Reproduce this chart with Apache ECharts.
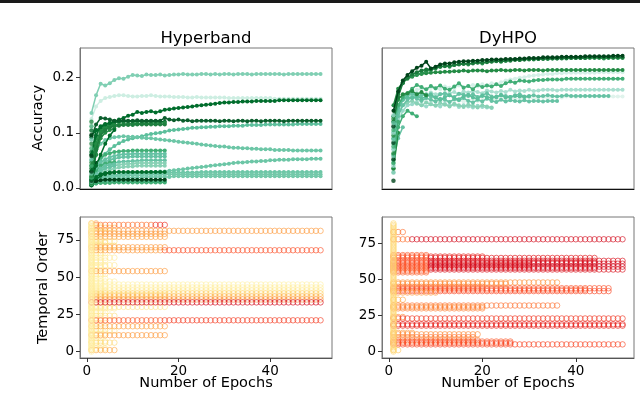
<!DOCTYPE html>
<html><head><meta charset="utf-8">
<script src="https://cdn.jsdelivr.net/npm/echarts@6/dist/echarts.min.js"></script>
<style>html,body{margin:0;padding:0;background:#fff}#c{width:640px;height:395px}</style>
</head><body><div id="c"></div>
<script>
// ---------------- DATA ----------------
const titles = ['Hyperband', 'DyHPO'];
const accTicks = [0, 0.1, 0.2];
const orderTicks = [0, 25, 50, 75];
const epochTicks = [0, 20, 40];

// Hyperband accuracy curves (accuracy x 1000, epoch 1..n)
const hb1 = [136,168,189,186,190,196,199,198,202,205,204,203,206,205,205,206,204,205,206,206,207,206,206,206,207,207,206,207,206,207,207,206,207,207,207,206,207,207,207,207,207,207,206,207,207,207,207,207,207,207,207];
const hb2 = [125,148,158,163,165,167,168,168,167,166,166,167,167,168,167,166,166,166,165,165,165,164,164,165,164,164,164,164,164,164,163,163,163,163,163,163,163,163,163,163,162,162,162,162,162,162,162,162,162,162,162];
const hb5 = [15,35,50,62,70,76,81,85,88,90,92,94,96,98,99,100,102,104,105,106,107,108,109,109,110,110,111,111,112,112,112,113,113,113,114,114,114,114,115,115,115,115,115,115,115,116,116,116,116,116,116];
const hb6 = [50,68,80,87,90,92,93,94,93,93,92,91,90,90,89,88,87,86,85,84,83,82,81,80,79,78,77,76,75,75,74,73,73,72,72,71,71,70,70,70,69,69,69,69,68,68,68,68,68,68,68];
const hb7 = [10,15,18,20,22,23,24,25,26,27,27,28,28,29,29,30,30,31,32,33,34,35,36,37,38,39,40,41,42,43,44,45,46,46,47,48,48,49,49,50,50,51,51,51,52,52,52,52,53,53,53];
const hb8 = [8,14,18,20,22,23,24,25,25,26,26,26,27,27,27,27,27,28,28,28,28,28,28,28,29,29,29,29,29,29,29,29,29,29,29,29,29,29,29,29,29,29,29,29,29,29,29,29,29,29,29];
const hb9 = [6,10,14,17,19,20,21,22,22,23,23,23,24,24,24,24,24,25,25,25,25,25,25,25,25,25,25,25,25,25,25,25,25,25,25,25,25,25,25,25,25,25,25,25,25,25,25,25,25,25,25];
const hb10 = [5,8,11,13,15,16,17,18,18,19,19,19,20,20,20,20,20,20,21,21,21,21,21,21,21,21,21,21,21,21,21,21,21,21,21,21,21,21,21,21,21,21,21,21,21,21,21,21,21,21,21];
const hbS4 = [20,45,55,60,63,65,66,67,67,68,68,68,68,68,68,68,68];
const hbS5 = [15,35,45,52,56,58,60,61,61,62,62,62,62,62,62,62,62];
const hbS6 = [12,30,40,47,51,53,55,56,56,57,57,57,57,57,57,57,57];
const hbS7 = [10,25,35,40,43,45,47,48,48,49,49,50,50,50,50,50,50];
const hbS8 = [10,20,30,35,38,40,42,43,44,44,45,45,45,45,45,45,45];
const hbS9 = [8,18,25,30,33,35,37,38,39,39,40,40,40,40,40,40,40];
const hbS12 = [6,9,10,11,11,12,12,12,12,12,12,12,12,12,12,12,12];
const hbS13 = [5,8,9,9,9,10,10,10,10,10,10,10,10,10,10,10,10];
const hbT3 = [10,30,40,44,46,47];
const hbT4 = [10,25,35,40,42,43];
const hbT5 = [8,20,30,36,38,40];
const hbT7 = [5,15,22,25,27,28];
const hbU1 = [40,90];
const hbU2 = [20,60];
const hbU3 = [60,105];
const hbU4 = [30,75];
const hbU5 = [10,45];
const hbT1 = [20,60,90,100,105,108];
const hbT2 = [15,70,100,110,113,115];
const hbT6 = [12,40,60,80,95,105];
const hbT8 = [30,80,105,112,116,118];
const hbS1 = [60,95,112,116,118,119,120,120,121,120,121,120,120,121,120,120,120];
const hbS2 = [40,80,100,108,112,114,115,116,116,117,117,117,117,118,118,118,118];
const hbS3 = [30,70,95,105,110,112,113,114,114,114,115,115,115,115,115,115,115];
const hbS10 = [10,20,25,27,28,29,29,29,29,29,29,29,29,29,29,29,29];
const hbS11 = [8,12,14,15,15,15,15,15,15,15,15,15,15,15,15,15,15];
const hb3 = [95,104,110,115,118,121,124,127,131,133,138,136,138,139,137,139,142,143,144,145,146,147,148,149,150,151,152,153,154,155,155,156,156,157,157,157,158,158,158,158,158,159,159,159,159,159,159,159,159,159,159];
const hb4 = [92,115,127,126,124,122,122,123,122,122,123,122,122,122,122,122,127,124,123,124,122,123,121,122,122,122,122,122,121,122,122,121,122,122,121,122,122,121,122,122,122,122,121,122,122,122,122,122,122,122,122];
const hbFirst = [5,7,9,11,13,16,19,22,26,30,35,40,46,52,58,65,72,80,88,96,104,112,120];

const hbCurves = [hb2,hb1,hb5,hb6,hb7,hb8,hb9,hb10,hbS4,hbS5,hbS6,hbS7,hbS8,hbS9,hbS12,hbS13,hbT3,hbT4,hbT5,hbT7,hbU1,hbU2,hbU3,hbU4,hbU5,hbT1,hbT2,hbT6,hbT8,hbS1,hbS2,hbS3,hbS10,hbS11,hb3,hb4];
const hbColors = ['#cdeee2','#80cfb3','#5cbf9c','#6cc6a6','#6cc6a6','#6cc6a6','#74c9aa','#74c9aa','#41ae76','#66c2a4','#66c2a4','#66c2a4','#88d1b5','#88d1b5','#66c2a4','#41ae76','#41ae76','#66c2a4','#66c2a4','#006d2c','#238b45','#1d7f3f','#006d2c','#238b45','#00441b','#238b45','#006d2c','#006d2c','#238b45','#006d2c','#238b45','#1d7f3f','#006d2c','#00441b','#006d2c','#0b5e2d'];

// DyHPO accuracy curves (accuracy x 1000, epoch 1..n)
const dy12 = [80,130,150,155,158,156,160,158,155,160,157,159,156,158,160,157,159,161,158,160,162,159,161,163,160,162,164,161,163,165,162,164,165,163,165,166,164,166,166,165,166,166,166,166,166,166,166,166,166,166];
const dy5 = [100,140,160,170,175,178,180,178,182,180,179,184,182,181,186,183,185,187,184,188,186,190,188,192,195,197,198,200,201,203,204,205,206,207,207,208,208,209,209,209,209,209,209,209,210,210,210,210,210,210];
const dy6 = [110,150,165,170,168,172,170,168,173,170,171,169,172,174,170,175,173,176,174,172,177,175,173,176,174,178,175,177,176,178,176,177,178,178,178,177,178,178,178,178,178,178,178,178,178,178,178,178,178,178];
const dy9 = [70,120,140,150,152,155,150,148,152,150,148,153,149,151,147,150,148,146,149,147,146,145];
const dy15 = [90,135,150,155,158,153,150,155,152,149,154,151,148,153,150,147,151,149,146,150,148,146];
const dy7 = [90,140,160,168,172,165,168,170,166,164,170,172,168,165,171,169,167,170,165,168,172,166,164,169,167,165,168,170,166,167,168,166,167,168,167,166,167,168,167,167,167,167,167,167,167,167,167];
const dy8 = [80,130,150,160,165,162,158,163,160,157,162,160,156,161,159,163,158,155,160,157,162,158,156,160,157,159,158,157,159,157,158,158,157,158,158,158];
const dy14 = [100,145,160,165,163,167,162,166,170,164,160,165,168,163,161,166,169,164,162,167,165,163,166,168,164,165,167,166,165,166];
const dy11 = [50,90,110];
const dy16 = [45,120];
const dy17 = [35,100];
const dy10 = [60,110,130,140,135,130];
const dy4 = [120,150,165,172,180,187,183,179,185,181,186,180,178,184,190,182,185,179,187,183,186,184,188,185,190,193,191,195,194,193,195,196,196,197,197,197,197,198,198,198,198,198,198,198,198,198,198,198,198,198];
const dy13 = [130,160,170,172,176,170,174,168];
const dy3 = [150,180,192,198,202,205,207,208,209,210,210,211,211,212,212,213,212,213,213,213,212,213,213,214,213,213,214,214,213,214,214,214,213,214,214,214,214,214,214,214,214,214,214,214,214,214,214,214,214,214];
const dy2b = [130,170,192,200,203,206,208,212,214,217,220,222,220,223,225,226,224,227,228,226,229,230,231,229,231,232,233,232,233,234,233,234,235,234,235,235,236,235,236,236,236,236,236,236,236,235,236,236,236,236];
const dy2 = [120,165,190,200,206,210,213,215,216,218,220,221,222,223,224,225,226,226,227,228,228,229,230,230,231,231,232,232,233,233,234,234,234,235,235,235,235,236,236,236,236,236,237,237,237,237,237,237,237,237];
const dy1 = [140,175,195,205,212,218,222,229,217,220,224,226,226,228,229,230,230,231,231,232,232,233,233,233,234,234,234,235,235,236,236,236,237,237,237,237,238,238,238,238,238,239,239,239,239,239,239,240,240,240];
const dyFirst = [13,28,35,40,45,52,58,63,70,75,82,88,95,100,105,112,118,125,132];

const dyCurves = [dy12,dy5,dy6,dy9,dy15,dy7,dy8,dy14,dy11,dy16,dy17,dy10,dy4,dy13,dy3,dy2b,dy2,dy1];
const dyColors = ['#e0f3ec','#d5f0e8','#a8dfcf','#99d8c9','#88d1b5','#66c2a4','#66c2a4','#5cbf9c','#66c2a4','#41ae76','#238b45','#41ae76','#41ae76','#238b45','#238b45','#2a9450','#1a7a3c','#00441b'];

// Temporal order rows: [order, first epoch, last epoch, evaluation-time colour value 0..1]
const hbConfigCount = 87;
const dyConfigCount = 90;
const hbRows = [
  [2,1,4,0.15],[4,1,3,0.15],[7,1,4,0.15],[9,1,3,0.18],[12,1,4,0.15],[15,1,3,0.15],[19,1,4,0.18],[22,1,3,0.15],
  [26,1,4,0.12],[27,1,3,0.15],[31,1,4,0.12],[36,1,3,0.12],[40,1,4,0.1],[42,1,3,0.12],[44,1,4,0.1],[46,1,3,0.1],
  [49,1,4,0.12],[51,1,3,0.12],[52,1,4,0.15],[56,1,3,0.15],[57,1,4,0.12],[60,1,3,0.12],[61,1,4,0.15],[65,1,3,0.15],
  [66,1,4,0.15],[72,1,3,0.2],[73,1,4,0.18],[75,1,3,0.2],[80,1,4,0.25],[84,1,3,0.25],[86,1,2,0.4],
  [1,1,6,0.4],[6,1,6,0.25],[14,1,6,0.2],[24,1,6,0.22],[29,1,6,0.15],[47,1,6,0.12],[58,1,6,0.15],[63,1,6,0.15],
  [74,1,6,0.2],[71,1,6,0.25],[83,1,6,0.3],
  [85,2,14,0.55],[85,15,17,0.7],[79,1,17,0.45],[77,1,17,0.42],[70,1,17,0.45],[54,1,17,0.45],[30,1,17,0.18],
  [17,1,17,0.42],[11,1,17,0.45],[38,1,17,0.2],
  [81,1,51,0.45],[68,1,16,0.45],[68,17,51,0.62],[45,1,51,0.1],[43,1,51,0.12],[41,1,51,0.15],[39,1,51,0.28],
  [37,1,51,0.38],[35,1,51,0.5],[33,1,51,0.8],[21,1,16,0.6],[21,17,51,0.66]
];
const dyRows = [
  [83,1,3,0.55],[78,1,4,0.55],[78,5,50,0.8],
  [67,1,8,0.6],[66,1,8,0.6],[66,9,20,0.72],[65,1,8,0.62],[65,9,44,0.76],[63,1,8,0.62],[63,9,50,0.78],
  [62,1,8,0.62],[62,9,44,0.79],[61,1,8,0.62],[61,9,50,0.8],[60,1,8,0.6],[60,9,30,0.76],[59,1,8,0.62],[59,9,50,0.82],
  [58,1,8,0.6],[58,9,44,0.79],[57,1,8,0.6],[57,9,50,0.78],[56,1,8,0.6],[55,1,8,0.58],
  [48,1,36,0.48],[47,1,25,0.5],[45,1,20,0.52],[44,1,47,0.62],[43,1,42,0.6],[42,1,47,0.64],[41,1,10,0.45],
  [36,1,3,0.4],[32,1,36,0.55],[31,1,20,0.5],[30,1,20,0.52],
  [24,1,3,0.5],[23,1,50,0.68],[19,1,50,0.74],[18,1,50,0.72],
  [13,1,5,0.45],[12,1,19,0.5],[10,1,18,0.55],[8,1,19,0.52],
  [7,1,26,0.6],[6,1,26,0.62],[5,1,50,0.64],[1,1,2,0.3]
];

// ---------------- RENDER ----------------
const YLORRD = ['#ffffcc','#ffeda0','#fed976','#feb24c','#fd8d3c','#fc4e2a','#e31a1c','#bd0026','#800026'];
function hex2rgb(h){return [parseInt(h.substr(1,2),16),parseInt(h.substr(3,2),16),parseInt(h.substr(5,2),16)];}
function ylorrd(t){
  t = Math.max(0, Math.min(1, t));
  const p = t * (YLORRD.length - 1), i = Math.min(Math.floor(p), YLORRD.length - 2), f = p - i;
  const a = hex2rgb(YLORRD[i]), b = hex2rgb(YLORRD[i+1]);
  return 'rgb(' + a.map((v,k)=>Math.round(v + (b[k]-v)*f)).join(',') + ')';
}
const FONT = 'DejaVu Sans';
const chart = echarts.init(document.getElementById('c'), null, {renderer: 'canvas'});

const grids = [
  {left: 80, top: 48, width: 252, height: 141},
  {left: 382, top: 48, width: 252, height: 141},
  {left: 80, top: 217, width: 252, height: 141},
  {left: 382, top: 217, width: 252, height: 141}
].map(g => Object.assign(g, {show: true, borderColor: '#777', borderWidth: 1, containLabel: false}));

const labelStyle = {color: '#000', fontFamily: FONT, fontSize: 13.5};
function xAx(gi, min, max, showLabels) {
  return {type: 'value', gridIndex: gi, min, max, splitLine: {show: false},
    axisLine: {show: true, onZero: false, lineStyle: {color: gi < 2 ? '#111' : '#555', width: 1}},
    axisTick: {show: showLabels, customValues: epochTicks, length: 4, lineStyle: {color: '#333'}},
    axisLabel: Object.assign({show: showLabels, customValues: epochTicks, margin: 6}, labelStyle)};
}
function yAx(gi, min, max, ticks, showLabels, fmt) {
  return {type: 'value', gridIndex: gi, min, max, splitLine: {show: false},
    axisLine: {show: true, onZero: false, lineStyle: {color: '#777', width: 1}},
    axisTick: {show: showLabels, customValues: ticks, length: 4, lineStyle: {color: '#333'}},
    axisLabel: Object.assign({show: showLabels, customValues: ticks, margin: 6, formatter: fmt}, labelStyle)};
}

const series = [];
function addCurves(curves, colors, gi) {
  curves.forEach((vals, k) => {
    series.push({type: 'line', xAxisIndex: gi, yAxisIndex: gi, silent: true, animation: false,
      data: vals.map((v, i) => [i + 1, v / 1000]),
      symbol: 'circle', symbolSize: 4, showSymbol: true, showAllSymbol: true,
      lineStyle: {width: 1.5, color: colors[k]}, itemStyle: {color: colors[k]}, z: 2 + k * 0.01});
  });
}
function addFirst(vals, gi, palette) {
  series.push({type: 'scatter', xAxisIndex: gi, yAxisIndex: gi, silent: true, animation: false,
    symbol: 'circle', symbolSize: 4.5,
    data: vals.map((v, i) => ({value: [1, v / 1000], itemStyle: {color: palette[i % palette.length]}})), z: 3});
}
addCurves(hbCurves, hbColors, 0);
addFirst(hbFirst, 0, ['#006d2c','#41ae76','#238b45','#66c2a4','#00441b']);
addCurves(dyCurves, dyColors, 1);
addFirst(dyFirst, 1, ['#00441b','#66c2a4','#238b45','#99d8c9','#41ae76']);

function addRows(rows, count, firstColor, gi) {
  const pts = [];
  rows.forEach(([y, e0, e1, c]) => {
    const col = ylorrd(c);
    for (let e = e0; e <= e1; e++) pts.push({value: [e, y], itemStyle: {borderColor: col}});
  });
  const fc = ylorrd(firstColor);
  for (let y = 0; y < count; y++) pts.push({value: [1, y], itemStyle: {borderColor: fc}});
  series.push({type: 'scatter', xAxisIndex: gi, yAxisIndex: gi, silent: true, animation: false,
    progressive: 0, symbol: 'circle', symbolSize: 5.5,
    itemStyle: {color: 'rgba(0,0,0,0)', borderWidth: 1, opacity: 0.65}, data: pts});
}
addRows(hbRows, hbConfigCount, 0.12, 2);
addRows(dyRows, dyConfigCount, 0.25, 3);

const textStyle = (t, x, y, size, rot) => ({type: 'text', x, y, rotation: rot || 0,
  style: {text: t, fill: '#000', font: size + 'px "' + FONT + '"', textAlign: 'center', textVerticalAlign: 'middle'}});

chart.setOption({
  animation: false,
  grid: grids,
  xAxis: [xAx(0, -1.5, 53.5, false), xAx(1, -1.45, 52.45, false), xAx(2, -1.5, 53.5, true), xAx(3, -1.45, 52.45, true)],
  yAxis: [
    yAx(0, -0.002, 0.254, accTicks, true, v => v.toFixed(1)),
    yAx(1, -0.002, 0.254, accTicks, false),
    yAx(2, -4.3, 90.3, orderTicks, true, v => String(v)),
    yAx(3, -4.45, 93.45, orderTicks, true, v => String(v))
  ],
  series,
  graphic: [
    {type: 'rect', shape: {x: 0, y: 0, width: 640, height: 3}, style: {fill: '#1a1a1a'}},
    textStyle(titles[0], 206, 39, 16.5),
    textStyle(titles[1], 508, 39, 16.5),
    textStyle('Accuracy', 38, 118, 14.5, Math.PI / 2),
    textStyle('Temporal Order', 43, 288, 14.5, Math.PI / 2),
    textStyle('Number of Epochs', 206, 383, 14.5),
    textStyle('Number of Epochs', 508, 383, 14.5)
  ]
});
</script></body></html>
